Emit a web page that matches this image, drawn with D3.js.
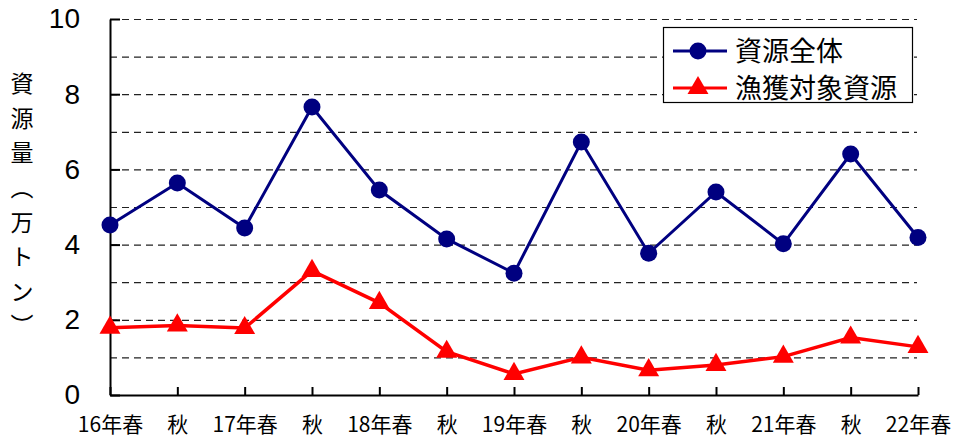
<!DOCTYPE html>
<html>
<head>
<meta charset="utf-8">
<script src="https://cdn.jsdelivr.net/npm/d3@7"></script>
<style>
  body { margin: 0; background: #fff; }
  svg { display: block; }
</style>
</head>
<body>
<div class="chart"></div>
<script>
// data
var categories = ["16年春", "秋1", "17年春", "秋2", "18年春", "秋3", "19年春", "秋4", "20年春", "秋5", "21年春", "秋6", "22年春"];
var totalValues = [4.52, 5.64, 4.44, 7.66, 5.45, 4.15, 3.24, 6.73, 3.77, 5.40, 4.02, 6.41, 4.19];
var targetValues = [1.79, 1.85, 1.78, 3.30, 2.45, 1.15, 0.56, 1.00, 0.66, 0.80, 1.02, 1.53, 1.28];
var yTickValues = [0, 2, 4, 6, 8, 10];
var seriesNames = ["資源全体", "漁獲対象資源"];
var yTitle = "資源量（万トン）";

var svgWidth = 955;
var svgHeight = 439;

var svg = d3.select(".chart")
    .append("svg")
    .attr("width", svgWidth)
    .attr("height", svgHeight);

// scales
var xScale = d3.scalePoint().domain(categories).range([110, 918]).padding(0);
var yScale = d3.scaleLinear().domain([0, 10]).range([395, 19]);

// dashed gridlines
svg.append("g")
    .selectAll("line")
    .data(yScale.ticks(10).filter(function (d) { return d > 0; }))
    .enter()
    .append("line")
    .attr("x1", 110)
    .attr("x2", 917)
    .attr("y1", function (d) { return yScale(d) + 0.5; })
    .attr("y2", function (d) { return yScale(d) + 0.5; })
    .attr("stroke", "#222")
    .attr("stroke-width", 1.2)
    .attr("stroke-dasharray", "7,5");

// y axis
var yAxis = d3.axisLeft(yScale).tickValues(yTickValues).tickSizeInner(-10).tickSizeOuter(0).tickPadding(30);
var yG = svg.append("g")
    .attr("transform", "translate(110,0)")
    .call(yAxis);
yG.select(".domain").attr("stroke", "#000").attr("stroke-width", 2);
yG.selectAll(".tick line").attr("stroke", "#000").attr("stroke-width", 2);
yG.selectAll(".tick text")
    .attr("font-family", "'Liberation Sans', Arial, sans-serif")
    .attr("font-size", "28px")
    .attr("fill", "#000");

// x axis
var xAxis = d3.axisBottom(xScale).tickSizeInner(-8).tickSizeOuter(0).tickPadding(22)
    .tickFormat(function (d) { return d.indexOf("秋") === 0 ? "秋" : d; });
var xG = svg.append("g")
    .attr("transform", "translate(0,395)")
    .call(xAxis);
xG.select(".domain").attr("stroke", "#000").attr("stroke-width", 2);
xG.selectAll(".tick line").attr("stroke", "#000").attr("stroke-width", 2);
xG.selectAll(".tick text")
    .attr("font-family", "'Noto Sans CJK JP', sans-serif")
    .attr("font-size", "21px")
    .attr("fill", "#000");

// y axis title, one character per row (parentheses in vertical form)
var vertForm = { "（": "︵", "）": "︶" };
svg.append("g").selectAll("text")
    .data(yTitle.split(""))
    .enter()
    .append("text")
    .attr("x", 22)
    .attr("y", function (d, i) { return 84 + i * 34.6; })
    .attr("dy", "0.36em")
    .attr("text-anchor", "middle")
    .attr("font-family", "'Noto Sans CJK JP', sans-serif")
    .attr("font-size", "23px")
    .attr("fill", "#000")
    .text(function (d) { return vertForm[d] || d; });

// lines
var line = d3.line()
    .x(function (d, i) { return xScale(categories[i]); })
    .y(function (d) { return yScale(d); });

svg.append("path")
    .datum(totalValues)
    .attr("d", line)
    .attr("fill", "none")
    .attr("stroke", "#000080")
    .attr("stroke-width", 3);

svg.append("path")
    .datum(targetValues)
    .attr("d", line)
    .attr("fill", "none")
    .attr("stroke", "#ff0000")
    .attr("stroke-width", 3.5);

// markers
svg.append("g").selectAll("circle")
    .data(totalValues)
    .enter()
    .append("circle")
    .attr("cx", function (d, i) { return xScale(categories[i]); })
    .attr("cy", function (d) { return yScale(d); })
    .attr("r", 8.5)
    .attr("fill", "#000080");

var tri = d3.symbol().type(d3.symbolTriangle).size(190);
svg.append("g").selectAll("path")
    .data(targetValues)
    .enter()
    .append("path")
    .attr("d", tri)
    .attr("transform", function (d, i) {
        return "translate(" + xScale(categories[i]) + "," + yScale(d) + ")";
    })
    .attr("fill", "#ff0000");

// legend
var legend = svg.append("g");
legend.append("rect")
    .attr("x", 663.5)
    .attr("y", 27.5)
    .attr("width", 249)
    .attr("height", 75)
    .attr("fill", "#fff")
    .attr("stroke", "#000")
    .attr("stroke-width", 1.2);

var legendY = [51, 88];
var legendColors = ["#000080", "#ff0000"];
seriesNames.forEach(function (name, i) {
    legend.append("line")
        .attr("x1", 673)
        .attr("x2", 727)
        .attr("y1", legendY[i])
        .attr("y2", legendY[i])
        .attr("stroke", legendColors[i])
        .attr("stroke-width", 3);
    if (i === 0) {
        legend.append("circle")
            .attr("cx", 698)
            .attr("cy", legendY[i])
            .attr("r", 8.5)
            .attr("fill", legendColors[i]);
    } else {
        legend.append("path")
            .attr("d", tri)
            .attr("transform", "translate(698," + legendY[i] + ")")
            .attr("fill", legendColors[i]);
    }
    legend.append("text")
        .attr("x", 735)
        .attr("y", legendY[i])
        .attr("dy", "0.36em")
        .attr("font-family", "'Noto Sans CJK JP', sans-serif")
        .attr("font-size", "27px")
        .attr("fill", "#000")
        .text(name);
});
</script>
</body>
</html>
